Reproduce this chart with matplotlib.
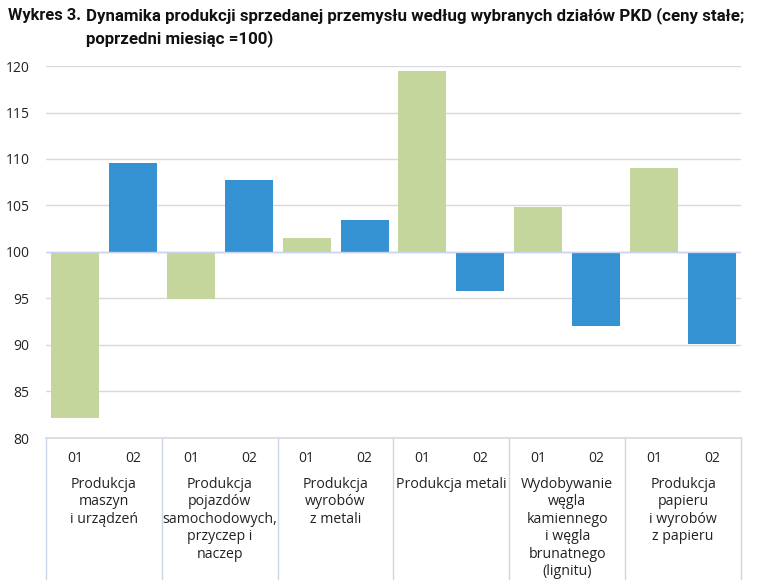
import matplotlib
matplotlib.use("Agg")
import matplotlib.pyplot as plt
from matplotlib.lines import Line2D

groups = ["Produkcja\nmaszyn\ni urządzeń",
          "Produkcja\npojazdów\nsamochodowych,\nprzyczep i\nnaczep",
          "Produkcja\nwyrobów\nz metali",
          "Produkcja metali",
          "Wydobywanie\nwęgla\nkamiennego\ni węgla\nbrunatnego\n(lignitu)",
          "Produkcja\npapieru\ni wyrobów\nz papieru"]
months = ["01", "02"]
jan = [82.1, 94.9, 101.5, 119.5, 104.8, 109.0]
feb = [109.6, 107.7, 103.4, 95.8, 92.0, 90.1]
yticks = [80, 85, 90, 95, 100, 105, 110, 115, 120]

plt.rcParams['font.family'] = ['Open Sans', 'DejaVu Sans']

fig = plt.figure(figsize=(7.6, 5.88), dpi=100)
ax = fig.add_axes([46/760, 1-438/588, (741-46)/760, (438-66)/588])

green = "#c4d69b"
blue = "#3592d2"
w = 0.83
base = 100
xs_j = [2*i for i in range(len(groups))]
xs_f = [2*i+1 for i in range(len(groups))]
ax.bar(xs_j, [v-base for v in jan], bottom=base, width=w, color=green, zorder=3)
ax.bar(xs_f, [v-base for v in feb], bottom=base, width=w, color=blue, zorder=3)

ax.set_ylim(80, 120)
ax.set_xlim(-0.5, 2*len(groups)-0.5)
ax.set_yticks(yticks)
ax.set_yticklabels([str(t) for t in yticks], fontsize=10, color="#222222")
ax.tick_params(axis='y', length=0, pad=12)
ax.grid(axis='y', color="#d9d9d9", linewidth=1.0, zorder=0)
ax.axhline(100, color="#c9d3ee", linewidth=1.0, zorder=4)
for s in ["left", "right", "top"]:
    ax.spines[s].set_visible(False)
ax.spines["bottom"].set_color("#d9d9d9")
ax.spines["bottom"].set_linewidth(1.2)

ax.set_xticks(xs_j + xs_f)
ax.set_xticklabels(months[:1]*len(groups) + months[1:]*len(groups), fontsize=10, color="#222222")
ax.tick_params(axis='x', length=0, pad=9)

tr = ax.get_xaxis_transform()
for k in range(len(groups)+1):
    x = 2*k - 0.5
    ax.add_line(Line2D([x, x], [0, -0.38], transform=tr, color="#c8d8ea",
                       linewidth=1.0, clip_on=False))
for i, g in enumerate(groups):
    ax.text(2*i+0.5, -0.105, g, transform=tr, ha="center", va="top",
            fontsize=10.2, color="#222222", linespacing=1.22)

tfont = ['Roboto', 'DejaVu Sans']
fig.text(8/760, 1-20/588, "Wykres 3.", fontsize=11.8, fontweight="bold",
         ha="left", va="baseline", family=tfont, color="#111111")
fig.text(86/760, 1-20/588, "Dynamika produkcji sprzedanej przemysłu według wybranych działów PKD (ceny stałe;",
         fontsize=12.2, fontweight="bold", ha="left", va="baseline", family=tfont, color="#111111")
fig.text(86/760, 1-43/588, "poprzedni miesiąc =100)",
         fontsize=12.2, fontweight="bold", ha="left", va="baseline", family=tfont, color="#111111")

fig.savefig("out.png", dpi=100)
